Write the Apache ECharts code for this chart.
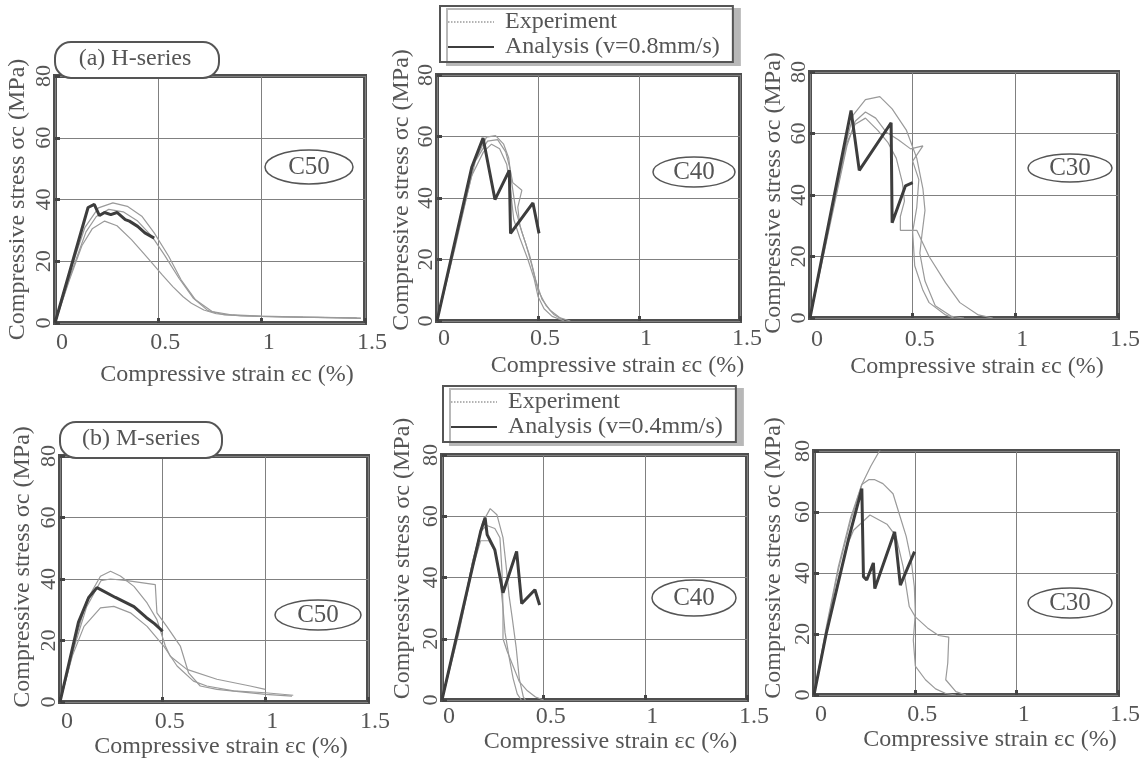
<!DOCTYPE html>
<html>
<head>
<meta charset="utf-8">
<title>Compressive stress-strain curves</title>
<script src="https://cdn.jsdelivr.net/npm/echarts@6/dist/echarts.min.js"></script>
<style>
html, body { margin: 0; padding: 0; background: #fff; }
#chart { width: 1143px; height: 760px; }
</style>
</head>
<body>
<div id="chart"></div>
<script>
// values, [strain %, stress MPa]

// (a) H-series, C50
var h50Ana  = [[0,0],[0.16,37.4],[0.19,38.4],[0.215,34.8],[0.24,35.8],[0.27,35.1],[0.3,35.8],[0.34,33.5],[0.36,33],[0.4,31.3],[0.435,29.2],[0.48,27.5]];
var h50Exp1 = [[0,0],[0.08,18],[0.145,31],[0.21,37.3],[0.28,38.9],[0.35,37.8],[0.42,34.6],[0.48,29.2],[0.55,21.6],[0.61,14],[0.68,7.5],[0.76,3.7],[0.86,2.6],[1.0,2.2],[1.2,1.9],[1.48,1.6]];
var h50Exp2 = [[0,0],[0.08,16.5],[0.15,29.5],[0.2,34.5],[0.26,36.8],[0.33,36],[0.4,33],[0.47,28],[0.53,22],[0.6,14.5],[0.67,8],[0.74,4],[0.82,2.6],[1.0,2.1],[1.25,1.8],[1.48,1.5]];
var h50Exp3 = [[0,0],[0.07,14],[0.13,25],[0.18,30.5],[0.24,33],[0.3,31.5],[0.37,27],[0.43,22.5],[0.47,19.4],[0.52,15.5],[0.57,11.8],[0.62,8.5],[0.66,6.4],[0.72,4.2],[0.78,3],[0.9,2.3],[1.1,2],[1.46,1.7]];

// (a) H-series, C40
var h40Ana  = [[0,0],[0.172,50],[0.228,59.5],[0.287,39.5],[0.358,49],[0.364,28.5],[0.475,38.4],[0.505,28.5]];
var h40Exp1 = [[0,0],[0.09,26],[0.18,51],[0.245,59.8],[0.29,60.3],[0.33,57.5],[0.355,53],[0.37,45],[0.39,36],[0.42,29],[0.46,21],[0.49,13],[0.52,7],[0.56,3.5],[0.61,1],[0.66,0]];
var h40Exp2 = [[0,0],[0.1,28],[0.19,52],[0.25,58.5],[0.3,59],[0.34,55],[0.36,50],[0.375,45],[0.42,42.5],[0.4,37],[0.41,31],[0.44,25],[0.47,18],[0.5,10],[0.54,5],[0.58,2],[0.62,0.5]];
var h40Exp3 = [[0,0],[0.09,24],[0.17,47],[0.23,55],[0.27,57.5],[0.31,56],[0.345,51],[0.365,42],[0.38,33],[0.41,27],[0.45,20],[0.48,14],[0.5,8],[0.53,4],[0.57,1.5],[0.63,0]];

// (a) H-series, C30
var h30Ana  = [[0,0],[0.2,67.5],[0.24,48],[0.395,63.5],[0.4,31],[0.465,43],[0.5,44]];
var h30Exp1 = [[0,0],[0.1,33],[0.18,58],[0.21,66],[0.27,71],[0.34,72],[0.4,68],[0.47,61],[0.52,52],[0.55,42],[0.56,35],[0.545,27],[0.535,21],[0.56,12],[0.61,4],[0.69,0.5],[0.75,0]];
var h30Exp2 = [[0,0],[0.1,31],[0.18,56],[0.22,64],[0.27,67],[0.32,65],[0.37,60.5],[0.43,58],[0.49,55],[0.55,56],[0.5,51],[0.53,45],[0.52,36],[0.5,28],[0.51,17],[0.55,9],[0.58,5],[0.66,1],[0.7,0]];
var h30Exp3 = [[0,0],[0.1,32],[0.18,57],[0.22,63],[0.27,65],[0.33,61],[0.38,57],[0.42,52],[0.45,44],[0.46,38],[0.44,33],[0.44,28.5],[0.52,28.5],[0.58,20],[0.66,11.5],[0.73,5],[0.82,1],[0.89,0]];

// (b) M-series, C50
var m50Ana  = [[0,0],[0.09,26],[0.14,34],[0.18,37.2],[0.27,34],[0.36,31],[0.42,27.5],[0.46,25.5],[0.5,23]];
var m50Exp1 = [[0,0],[0.07,18],[0.13,31],[0.2,39.5],[0.246,40],[0.327,39.5],[0.464,38.2],[0.472,29],[0.52,24.6],[0.586,18.2],[0.626,9.5],[0.683,5.2],[0.764,4.1],[1.0,2.5],[1.13,1.9]];
var m50Exp2 = [[0,0],[0.07,19],[0.13,33],[0.197,40.9],[0.246,42.5],[0.294,41],[0.36,37.6],[0.424,32.2],[0.472,26.8],[0.513,18.2],[0.537,14.9],[0.618,10.6],[0.764,7.4],[0.926,5.2],[1.0,4.1]];
var m50Exp3 = [[0,0],[0.06,15],[0.117,24.6],[0.197,30.6],[0.262,31.1],[0.343,29],[0.424,24.6],[0.505,18.2],[0.57,11.7],[0.65,6.8],[0.715,5.2],[0.845,3.6],[1.0,3],[1.136,2.2]];

// (b) M-series, C40
var m40Ana  = [[0,0],[0.19,55],[0.212,59.5],[0.222,54],[0.26,49],[0.3,35],[0.367,48.5],[0.392,31.5],[0.457,36],[0.48,31]];
var m40Exp1 = [[0,0],[0.08,22],[0.15,45],[0.2,58],[0.237,62.5],[0.27,60.5],[0.3,53],[0.315,44],[0.33,34],[0.345,27],[0.365,17],[0.38,7],[0.4,1],[0.41,0]];
var m40Exp2 = [[0,0],[0.08,22],[0.15,45],[0.19,55],[0.22,57],[0.26,56],[0.285,53],[0.295,42],[0.3,30],[0.3,20],[0.32,16],[0.35,11],[0.38,6],[0.42,3],[0.46,1],[0.5,0]];
var m40Exp3 = [[0,0],[0.08,21],[0.15,43],[0.19,52],[0.23,52],[0.265,48],[0.285,40],[0.3,30],[0.31,22],[0.33,14],[0.35,7],[0.37,2],[0.39,0]];

// (b) M-series, C30
var m30Ana  = [[0,0],[0.06,20],[0.115,35.5],[0.17,51],[0.236,67.7],[0.244,38.8],[0.26,37.7],[0.293,43.3],[0.3,34.9],[0.398,53.5],[0.426,36],[0.496,47]];
var m30Exp1 = [[0,0],[0.06,22],[0.12,42],[0.18,58],[0.236,69],[0.28,75],[0.34,82]];
var m30Exp2 = [[0,0],[0.06,21],[0.12,41],[0.18,57],[0.236,69],[0.27,70.6],[0.3,70.6],[0.34,69.3],[0.39,66],[0.42,59.5],[0.455,52],[0.48,44],[0.495,35.5],[0.5,27],[0.49,18],[0.5,9.5],[0.55,5],[0.6,2],[0.65,0.5],[0.7,0]];
var m30Exp3 = [[0,0],[0.06,20],[0.12,38],[0.17,50],[0.195,54],[0.276,59],[0.36,56],[0.405,52],[0.44,42],[0.47,29],[0.5,25.6],[0.56,22],[0.615,19.5],[0.665,19],[0.66,10.5],[0.65,5],[0.7,1.1],[0.75,0]];

var panelNames = ['C50', 'C40', 'C30', 'C50', 'C40', 'C30'];
var analysisNames = ['Analysis (v=0.8mm/s)', 'Analysis (v=0.4mm/s)'];
var panelAna = [h50Ana, h40Ana, h30Ana, m50Ana, m40Ana, m30Ana];
var panelExp = [
	[h50Exp1, h50Exp2, h50Exp3],
	[h40Exp1, h40Exp2, h40Exp3],
	[h30Exp1, h30Exp2, h30Exp3],
	[m50Exp1, m50Exp2, m50Exp3],
	[m40Exp1, m40Exp2, m40Exp3],
	[m30Exp1, m30Exp2, m30Exp3]
];

var FONT = '"Liberation Serif", "DejaVu Serif", serif';
var TXT = '#555';
var EXP_COLOR = '#9a9a9a';
var ANA_COLOR = '#3d3d3d';

// plot frames and axis text offsets of the six panels (px)
var layout = [
	{left: 55,  top: 76,  width: 310, height: 247, xGap: 40, xShift: 17, xLab: 8,  yGap: 25, yShift: 0,  ell: [309, 167, 44, 17]},
	{left: 437, top: 75,  width: 303, height: 246, xGap: 33, xShift: 29, xLab: 6,  yGap: 22, yShift: 8,  ell: [694, 172, 41, 15]},
	{left: 810, top: 72,  width: 309, height: 246, xGap: 37, xShift: 13, xLab: 10, yGap: 24, yShift: 2,  ell: [1070, 168, 42, 14]},
	{left: 60,  top: 456, width: 308, height: 246, xGap: 30, xShift: 7,  xLab: 8,  yGap: 25, yShift: 12, ell: [318, 615, 43, 15]},
	{left: 442, top: 455, width: 305, height: 245, xGap: 26, xShift: 16, xLab: 5,  yGap: 27, yShift: 19, ell: [694, 598, 42, 18]},
	{left: 814, top: 451, width: 307, height: 244, xGap: 31, xShift: 24, xLab: 8,  yGap: 28, yShift: 15, ell: [1070, 603, 42, 15]}
];

var grids = [], xAxes = [], yAxes = [], series = [], graphics = [];

for (var i = 0; i < 6; i++) {
	var L = layout[i];
	grids.push({
		left: L.left, top: L.top, width: L.width, height: L.height,
		show: true, borderColor: '#4f4f4f', borderWidth: 4, backgroundColor: 'transparent'
	});
	xAxes.push({
		gridIndex: i, type: 'value', min: 0, max: 1.5, interval: 0.5,
		name: 'Compressive strain εc (%)', nameLocation: 'middle', nameGap: L.xGap,
		nameTextStyle: {fontFamily: FONT, fontSize: 24, color: TXT, padding: [0, 0, 0, 2 * L.xShift]},
		axisLine: {show: false},
		axisTick: {show: true, inside: true, length: 5, lineStyle: {color: '#444', width: 3}},
		axisLabel: {fontFamily: FONT, fontSize: 24, color: TXT, margin: L.xLab, padding: [0, 0, 0, 14]},
		splitLine: {show: true, lineStyle: {color: '#808080', width: 1}}
	});
	yAxes.push({
		gridIndex: i, type: 'value', min: 0, max: 80, interval: 20,
		name: 'Compressive stress σc (MPa)', nameLocation: 'middle', nameGap: L.yGap,
		nameTextStyle: {fontFamily: FONT, fontSize: 24, color: TXT, padding: [0, 0, 0, 2 * L.yShift]},
		axisLine: {show: false},
		axisTick: {show: true, inside: true, length: 5, lineStyle: {color: '#444', width: 3}},
		axisLabel: {fontFamily: FONT, fontSize: 22, color: TXT, rotate: 90, margin: 0},
		splitLine: {show: true, lineStyle: {color: '#808080', width: 1}}
	});

	for (var k = 0; k < panelExp[i].length; k++) {
		series.push({
			name: 'Experiment', type: 'line', xAxisIndex: i, yAxisIndex: i,
			data: panelExp[i][k], symbol: 'none',
			itemStyle: {color: EXP_COLOR},
			lineStyle: {color: EXP_COLOR, width: 1.2}, z: 3
		});
	}
	series.push({
		name: analysisNames[i < 3 ? 0 : 1], type: 'line', xAxisIndex: i, yAxisIndex: i,
		data: panelAna[i], symbol: 'none',
		itemStyle: {color: ANA_COLOR},
		lineStyle: {color: ANA_COLOR, width: 3}, z: 4
	});

	// concrete grade ellipse
	graphics.push({
		type: 'ellipse', z: 20,
		shape: {cx: L.ell[0], cy: L.ell[1], rx: L.ell[2], ry: L.ell[3]},
		style: {fill: '#fff', stroke: '#555', lineWidth: 1.5}
	});
	graphics.push({
		type: 'text', z: 21, x: L.ell[0], y: L.ell[1],
		style: {text: panelNames[i], fontFamily: FONT, fontSize: 25, fill: TXT, align: 'center', verticalAlign: 'middle'}
	});
}

// series titles above the left column
graphics.push({type: 'rect', z: 1, shape: {x: 55, y: 42, width: 164, height: 36, r: 16}, style: {fill: '#fff', stroke: '#555', lineWidth: 2}});
graphics.push({type: 'text', z: 2, x: 135, y: 59, style: {text: '(a) H-series', fontFamily: FONT, fontSize: 24, fill: TXT, align: 'center', verticalAlign: 'middle'}});
graphics.push({type: 'rect', z: 1, shape: {x: 60, y: 422, width: 162, height: 36, r: 16}, style: {fill: '#fff', stroke: '#555', lineWidth: 2}});
graphics.push({type: 'text', z: 2, x: 141, y: 439, style: {text: '(b) M-series', fontFamily: FONT, fontSize: 24, fill: TXT, align: 'center', verticalAlign: 'middle'}});

function legendBox(top, left, anaName) {
	return {
		data: [{name: 'Experiment', lineStyle: {type: 'dotted', width: 1.5}}, anaName],
		orient: 'vertical', left: left, top: top,
		itemWidth: 46, itemHeight: 12, itemGap: 1,
		padding: [4, 13, 3, 7],
		itemStyle: {opacity: 0},
		backgroundColor: '#fff', borderColor: '#555', borderWidth: 2,
		shadowColor: '#b8b8b8', shadowBlur: 0, shadowOffsetX: 7, shadowOffsetY: 3,
		selectedMode: false,
		textStyle: {fontFamily: FONT, fontSize: 24, color: TXT, padding: [0, 0, 0, 6]}
	};
}

var chart = echarts.init(document.getElementById('chart'));
chart.setOption({
	animation: false,
	backgroundColor: '#fff',
	grid: grids,
	xAxis: xAxes,
	yAxis: yAxes,
	legend: [legendBox(6, 440, analysisNames[0]), legendBox(386, 443, analysisNames[1])],
	series: series,
	graphic: graphics
});
</script>
</body>
</html>
